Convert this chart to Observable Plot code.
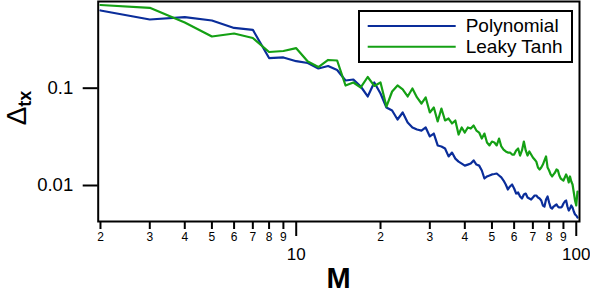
<!DOCTYPE html>
<html><head><meta charset="utf-8">
<script src="https://cdn.jsdelivr.net/npm/d3@7"></script>
<script src="https://cdn.jsdelivr.net/npm/@observablehq/plot@0.6"></script>
<style>body{margin:0;background:#fff;}</style>
</head><body><div id="chart"></div>
<script>
const M = [2,3,4,5,6,7,8,9,10,11,12,13,14,15,16,17,18,19,20,21,22,23,24,25,26,27,28,29,30,31,32,33,34,35,36,37,38,39,40,41,42,43,44,45,46,47,48,49,50,51,52,53,54,55,56,57,58,59,60,61,62,63,64,65,66,67,68,69,70,71,72,73,74,75,76,77,78,79,80,81,82,83,84,85,86,87,88,89,90,91,92,93,94,95,96,97,98,99,100,101];
const polynomial = [0.629,0.508,0.537,0.496,0.416,0.398,0.204,0.207,0.1895,0.1815,0.1594,0.169,0.1538,0.120,0.1229,0.1041,0.0822,0.1145,0.0882,0.0633,0.0590,0.0477,0.0563,0.0444,0.0395,0.0376,0.0367,0.0395,0.0319,0.0342,0.0258,0.0252,0.0240,0.0199,0.0218,0.0189,0.0176,0.0168,0.0160,0.0164,0.0168,0.0181,0.0164,0.0160,0.01426,0.0118,0.01238,0.01267,0.0130,0.01313,0.01328,0.01267,0.0121,0.01125,0.01024,0.00910,0.00977,0.01024,0.00932,0.00827,0.00847,0.00771,0.00735,0.00808,0.00827,0.00753,0.00735,0.00718,0.00753,0.00789,0.00789,0.00753,0.00735,0.00701,0.00623,0.00608,0.00718,0.00771,0.00669,0.00594,0.00580,0.00608,0.00623,0.00638,0.00608,0.00594,0.00594,0.00608,0.00653,0.00685,0.00701,0.00608,0.00553,0.00580,0.00623,0.00594,0.00540,0.00504,0.00492,0.00469];
const leakyTanh = [0.716,0.670,0.473,0.340,0.365,0.328,0.2355,0.241,0.2577,0.188,0.165,0.195,0.1926,0.1066,0.1145,0.1017,0.1303,0.1054,0.1145,0.0648,0.0925,0.1066,0.0970,0.0822,0.0993,0.0803,0.0696,0.0803,0.0563,0.0633,0.0455,0.0618,0.0466,0.0488,0.0434,0.0466,0.0334,0.0395,0.0350,0.0395,0.0385,0.0414,0.0367,0.0350,0.0304,0.0342,0.0277,0.0258,0.0283,0.0277,0.0258,0.0304,0.0252,0.0234,0.0224,0.0218,0.0218,0.0208,0.0208,0.0229,0.0240,0.0203,0.0229,0.0283,0.0229,0.0203,0.0224,0.0208,0.0194,0.0185,0.0176,0.0153,0.0146,0.0153,0.0164,0.0181,0.0199,0.0153,0.01426,0.0130,0.01238,0.0130,0.0136,0.0146,0.01426,0.01267,0.0118,0.01152,0.01125,0.0121,0.0130,0.0121,0.01074,0.01238,0.0110,0.01024,0.00847,0.00701,0.00623,0.00868];
const seriesNames = ["Polynomial", "Leaky Tanh"];
const seriesColors = ["#0a2d9a", "#14a014"];
const yTicks = [0.1, 0.01];
const yTickLabels = ["0.1", "0.01"];
const xMajorTicks = [10, 100];
const xMajorLabels = ["10", "100"];
const xMinorTicks = [2,3,4,5,6,7,8,9,20,30,40,50,60,70,80,90];
const xMinorLabels = ["2","3","4","5","6","7","8","9","2","3","4","5","6","7","8","9"];

const rows = [];
M.forEach((m, i) => {
  rows.push({M: m, v: polynomial[i], s: seriesNames[0]});
  rows.push({M: m, v: leakyTanh[i], s: seriesNames[1]});
});

const font = "'Liberation Sans', Arial, Helvetica, sans-serif";
const chart = Plot.plot({
  width: 590, height: 294,
  marginLeft: 97.7, marginRight: 11, marginTop: 1, marginBottom: 73,
  style: {fontFamily: font, background: "white", color: "black"},
  x: {type: "log", domain: [1.963, 102.7], axis: null},
  y: {type: "log", domain: [0.004266, 0.778]},
  color: {domain: seriesNames, range: seriesColors},
  marks: [
    Plot.line(rows, {x: "M", y: "v", z: "s", stroke: "s", strokeWidth: 2.2}),
    Plot.frame({stroke: "black", strokeWidth: 2}),
    Plot.axisY({ticks: yTicks, tickSize: 15, tickPadding: 10, fontSize: 18.5, strokeWidth: 2,
      tickFormat: d => yTickLabels[yTicks.indexOf(d)], label: null}),
    Plot.tickX(xMinorTicks, {x: d => d, insetTop: 220, insetBottom: -8, stroke: "black", strokeWidth: 2}),
    Plot.text(xMinorTicks, {x: d => d, text: (d, i) => xMinorLabels[i], frameAnchor: "bottom",
      lineAnchor: "top", dy: 11, fontSize: 12, fill: "black"}),
    Plot.tickX(xMajorTicks, {x: d => d, insetTop: 220, insetBottom: -15, stroke: "black", strokeWidth: 2}),
    Plot.text(xMajorTicks, {x: d => d, text: (d, i) => xMajorLabels[i], frameAnchor: "bottom",
      lineAnchor: "top", dy: 26, fontSize: 17, fill: "black"})
  ]
});
document.getElementById("chart").appendChild(chart);

const svg = d3.select(chart);
svg.append("text").attr("x", 338.5).attr("y", 288).attr("text-anchor", "middle")
  .attr("font-size", 29).attr("font-weight", "bold").attr("font-family", font).attr("fill", "black").text("M");
const yt = svg.append("text").attr("transform", "translate(25.5,108) rotate(-90)")
  .attr("text-anchor", "middle").attr("font-family", font).attr("fill", "black");
yt.append("tspan").attr("font-size", 28).text("Δ");
yt.append("tspan").attr("font-size", 18).attr("font-weight", "bold").attr("dy", 5).text("tx");

const lg = svg.append("g");
lg.append("rect").attr("x", 359).attr("y", 11).attr("width", 213).attr("height", 51)
  .attr("fill", "white").attr("stroke", "black").attr("stroke-width", 2);
seriesNames.forEach((name, i) => {
  const yy = 26 + i * 20.7;
  lg.append("line").attr("x1", 367.7).attr("x2", 455.7).attr("y1", yy).attr("y2", yy)
    .attr("stroke", seriesColors[i]).attr("stroke-width", 2);
  lg.append("text").attr("x", 465.7).attr("y", yy + 6.3).attr("font-size", 19)
    .attr("text-anchor", "start").attr("font-family", font).attr("fill", "black").text(name);
});
</script>
</body></html>
